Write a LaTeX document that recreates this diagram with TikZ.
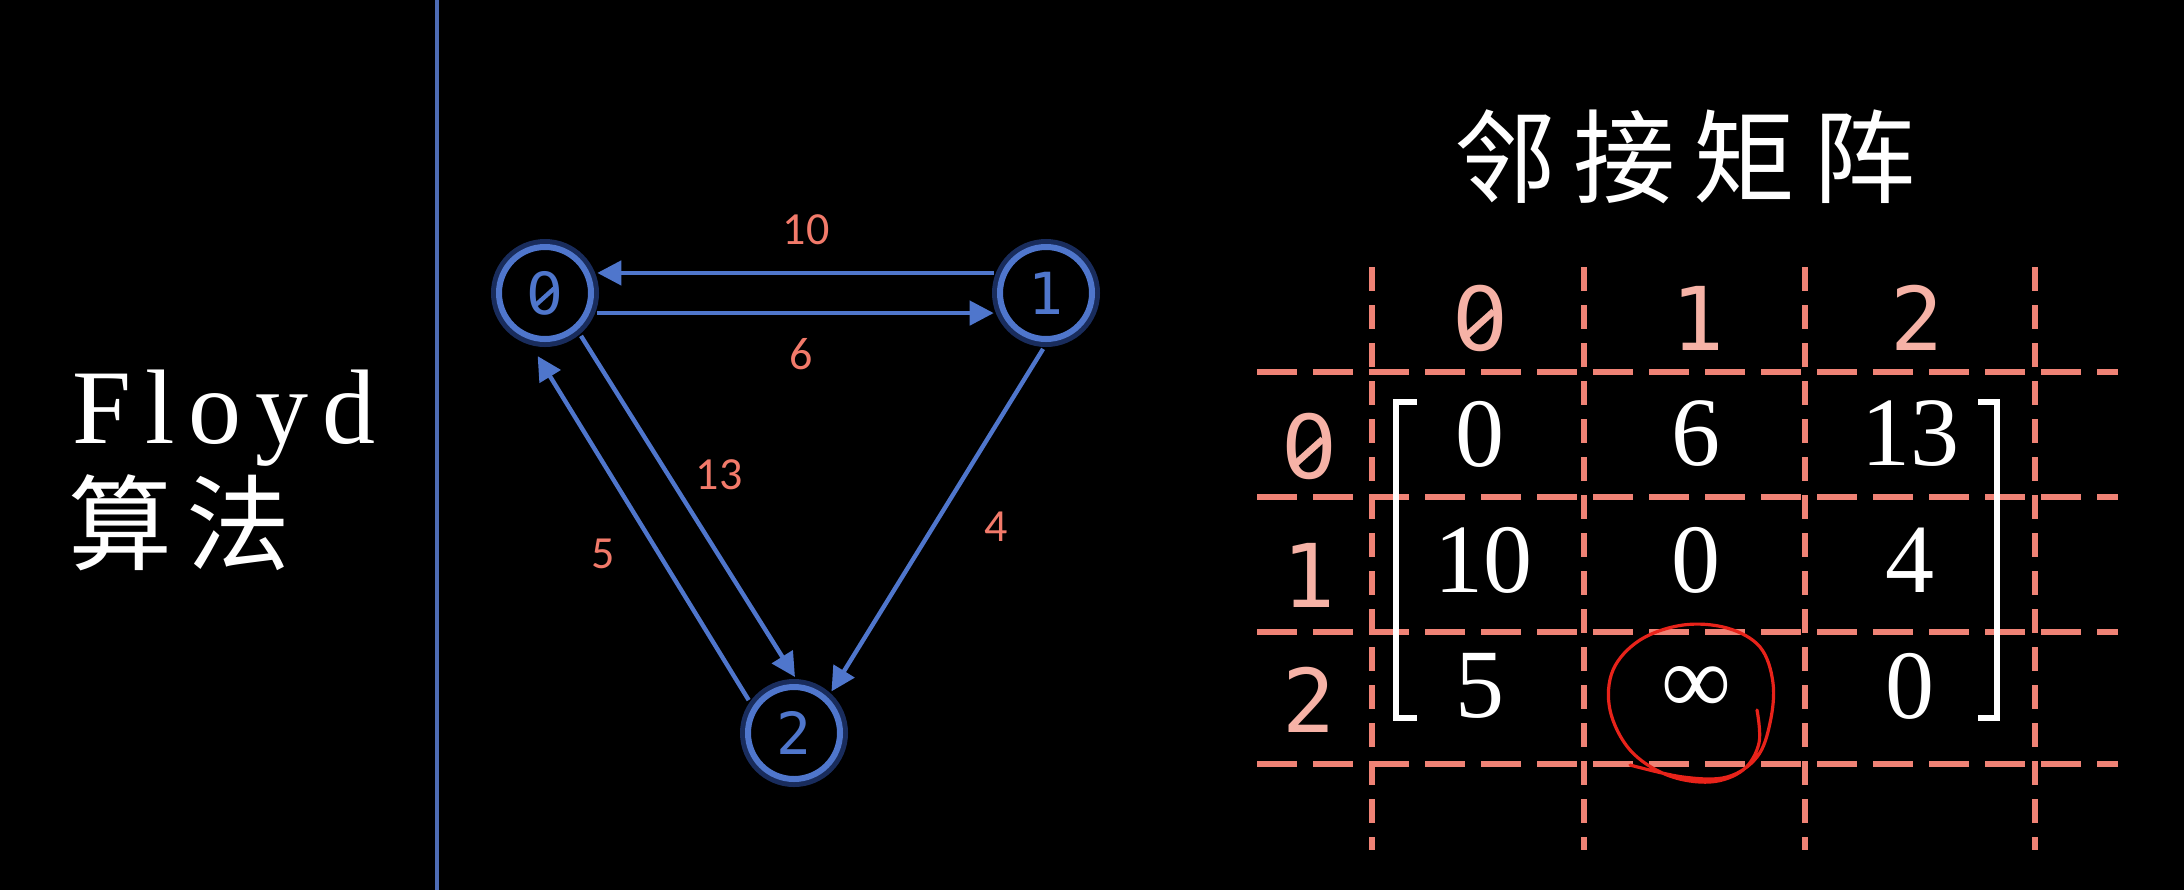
\documentclass[tikz,border=0pt]{standalone}
\usepackage{fontspec}
\usepackage{graphicx}
\setmainfont{Liberation Serif}
\newfontfamily\cjkfont{Noto Sans CJK SC}
\newfontfamily\monofont{DejaVu Sans Mono}
\newfontfamily\plainsans{DejaVu Sans}
\newfontfamily\labelfont{Carlito}
\usetikzlibrary{arrows.meta}

\definecolor{nodeblue}{HTML}{4F76CC}
\definecolor{glowblue}{HTML}{2B4A9A}
\definecolor{dividerblue}{HTML}{4E6CB5}
\definecolor{weightred}{HTML}{F27A6A}
\definecolor{headpink}{HTML}{F6B2A6}
\definecolor{gridred}{HTML}{EF8275}
\definecolor{circlered}{HTML}{E8231A}

% zero with a slash, as in the slides
\newcommand\slzero{{\ooalign{\plainsans 0\cr\hidewidth\raisebox{0.14em}{\rotatebox{42}{\rule{0.42em}{0.075em}}}\hidewidth\cr}}}

\tikzstyle{vertex}=[circle, draw=nodeblue, line width=3pt, fill=black, minimum size=46pt, inner sep=0pt, outer sep=5pt, text=nodeblue, font={\monofont\fontsize{29}{29}\selectfont}, preaction={draw=glowblue, line width=8pt, opacity=0.6}]
\tikzstyle{edge}=[draw=nodeblue, line width=2.2pt, -{Triangle[length=12pt,width=12pt]}]
\tikzstyle{weight}=[text=weightred, font={\labelfont\fontsize{23}{23}\selectfont}]
\tikzstyle{head}=[text=headpink, font={\monofont\fontsize{44}{44}\selectfont}]
\tikzstyle{entry}=[text=white, font={\fontsize{49}{49}\selectfont}]
\tikzstyle{gridline}=[draw=gridred, line width=2.8pt]
\tikzstyle{bracket}=[draw=white, line width=3pt]

\begin{document}
\begin{tikzpicture}[x=0.5pt, y=-0.5pt]
    \useasboundingbox (0,0) rectangle (2184,890);
    \fill[black] (0,0) rectangle (2184,890);
    \draw[dividerblue, line width=2pt] (437,0) -- (437,890);

    % left title
    \node[anchor=base west, inner sep=0pt, text=white, font={\fontsize{53}{53}\selectfont}] (floyd) at (72,443) {F\hspace{7pt}l\hspace{7pt}o\hspace{7pt}y\hspace{7pt}d};
    \node[anchor=base west, inner sep=0pt, text=white, font={\cjkfont\fontsize{52}{52}\selectfont}] (suanfa) at (68,562) {算\hspace{7pt}法};

    % graph
    \node[vertex] (v0) at (545,293) {\slzero};
    \node[vertex] (v1) at (1046,293) {1};
    \node[vertex] (v2) at (794,733) {2};

    \draw[edge] (v1.159) -- (v0.21);
    \draw[edge] (v0.-21) -- (v1.201);
    \draw[edge] (v0.-50) -- (v2.89);
    \draw[edge, shorten >=5pt] (v2.144) -- (v0.-103);
    \draw[edge] (v1.-93) -- (v2.48);

    \node[weight] (w10) at (806,230) {10};
    \node[weight] (w6) at (801,354) {6};
    \node[weight] (w13) at (719,475) {13};
    \node[weight] (w5) at (603,554) {5};
    \node[weight] (w4) at (996,527) {4};

    % adjacency matrix
    \node[text=white, font={\cjkfont\fontsize{51}{51}\selectfont}] (title) at (1685,157) {邻\hspace{9pt}接\hspace{9pt}矩\hspace{9pt}阵};

    \foreach \x in {1372,1584,1805,2035}
        \draw[gridline, dash pattern=on 12pt off 7pt] (\x,267) -- (\x,850);
    \foreach \y in {372,497,632,764}
        \draw[gridline, dash pattern=on 20pt off 8pt] (1257,\y) -- (2118,\y);

    \foreach \i/\t/\x in {0/\slzero/1480,1/1/1698,2/2/1917}
        \node[head] (col\i) at (\x,318) {\t};
    \foreach \i/\t/\y in {0/\slzero/446,1/1/575,2/2/700}
        \node[head] (row\i) at (1309,\y) {\t};

    \node[entry] (m00) at (1480,434) {0};
    \node[entry] (m01) at (1696,434) {6};
    \node[entry] (m02) at (1910,434) {13};
    \node[entry] (m10) at (1483,560) {10};
    \node[entry] (m11) at (1696,560) {0};
    \node[entry] (m12) at (1910,560) {4};
    \node[entry] (m20) at (1480,686) {5};
    \node[entry] (m21) at (1696,690) {∞};
    \node[entry] (m22) at (1910,686) {0};

    \draw[bracket] (1417,402) -- (1396,402) -- (1396,718) -- (1417,718);
    \draw[bracket] (1978,402) -- (1997,402) -- (1997,718) -- (1978,718);

    % hand-drawn mark
    \draw[circlered, line width=1.6pt, line cap=round] plot[smooth, tension=0.6] coordinates {(1757,710) (1759,743) (1743,770) (1710,782) (1667,775) (1630,750) (1610,710) (1613,670) (1640,640) (1683,625) (1727,628) (1760,647) (1773,683) (1770,723) (1757,757) (1727,777) (1683,777) (1630,765)};
\end{tikzpicture}
\end{document}
